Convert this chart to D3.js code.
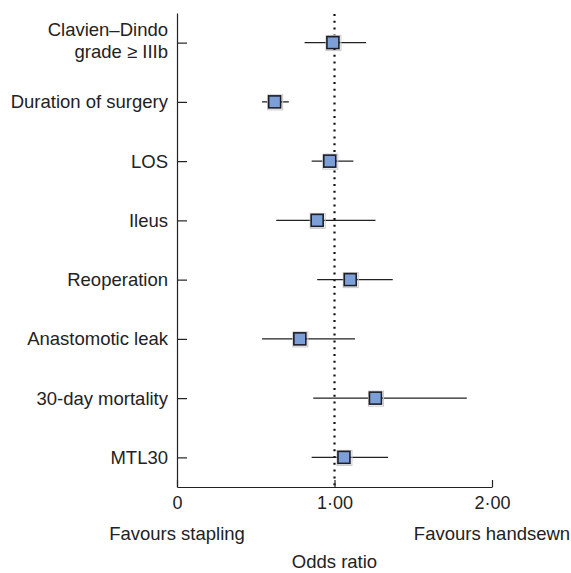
<!DOCTYPE html>
<html>
<head>
<meta charset="utf-8">
<script src="https://cdn.jsdelivr.net/npm/d3@7"></script>
<style>
  html, body { margin: 0; padding: 0; background: #fff; }
  text { font-family: "Liberation Sans", Arial, Helvetica, sans-serif; fill: #222; }
</style>
</head>
<body>
<svg id="chart" width="571" height="573"></svg>
<script>
const categories = ["Clavien–Dindo\ngrade ≥ IIIb", "Duration of surgery", "LOS", "Ileus", "Reoperation", "Anastomotic leak", "30-day mortality", "MTL30"];
const oddsRatio = [0.99, 0.62, 0.97, 0.89, 1.10, 0.78, 1.26, 1.06];
const ciLower   = [0.81, 0.54, 0.855, 0.63, 0.89, 0.54, 0.865, 0.855];
const ciUpper   = [1.20, 0.71, 1.12, 1.26, 1.37, 1.13, 1.84, 1.34];
const xTicks = [0, 1, 2];
const xTickLabels = ["0", "1·00", "2·00"];
const sideLabels = ["Favours stapling", "Favours handsewn"];
const xTitle = "Odds ratio";

const FS = 18.5;
const svg = d3.select("#chart");
const x = d3.scaleLinear().domain([0, 2]).range([177, 492]);
const y = d3.scalePoint().domain(categories).range([13, 487]).padding(0.5);
const bottom = 487;

// reference line at OR = 1
svg.append("line")
  .attr("x1", x(1)).attr("x2", x(1))
  .attr("y1", 14).attr("y2", bottom)
  .attr("stroke", "#111").attr("stroke-width", 2.2)
  .attr("stroke-dasharray", "2,4.8");

// y axis
const yAxis = d3.axisLeft(y).tickSizeInner(-10).tickSizeOuter(0).tickPadding(9);
const gy = svg.append("g").attr("transform", `translate(${x(0)},0)`).call(yAxis);
gy.attr("font-family", null).attr("font-size", null);
gy.select(".domain").attr("stroke", "#222").attr("stroke-width", 1.2);
gy.selectAll(".tick line").attr("stroke", "#222").attr("stroke-width", 1.2);
gy.selectAll(".tick text")
  .attr("font-size", FS)
  .style("fill", "#222")
  .each(function(d) {
    const lines = d.split("\n");
    const t = d3.select(this);
    t.text(null).attr("dy", null);
    if (lines.length === 1) {
      t.append("tspan").attr("x", -9).attr("y", 6).text(lines[0]);
    } else {
      t.append("tspan").attr("x", -9).attr("y", -7.6).text(lines[0]);
      t.append("tspan").attr("x", -9).attr("y", 14.4).text(lines[1]);
    }
  });

// x axis
const xAxis = d3.axisBottom(x).tickValues(xTicks)
  .tickFormat((d, i) => xTickLabels[i])
  .tickSizeInner(-7).tickSizeOuter(0).tickPadding(9);
const gx = svg.append("g").attr("transform", `translate(0,${bottom})`).call(xAxis);
gx.attr("font-family", null).attr("font-size", null);
gx.select(".domain").attr("stroke", "#222").attr("stroke-width", 1.2);
gx.selectAll(".tick line").attr("stroke", "#222").attr("stroke-width", 1.2);
gx.selectAll(".tick text").attr("font-size", 18).style("fill", "#222");

// side labels
svg.selectAll("text.side").data(sideLabels).join("text")
  .attr("class", "side")
  .attr("x", (d, i) => x(xTicks[i * 2]))
  .attr("y", 540)
  .attr("text-anchor", "middle")
  .attr("font-size", FS)
  .text(d => d);

svg.append("text")
  .attr("x", x(1)).attr("y", 568)
  .attr("text-anchor", "middle")
  .attr("font-size", FS)
  .text(xTitle);

// CI lines
const rows = categories.map((c, i) => ({ c, or: oddsRatio[i], lo: ciLower[i], hi: ciUpper[i] }));
svg.selectAll("line.ci").data(rows).join("line")
  .attr("class", "ci")
  .attr("x1", d => x(d.lo)).attr("x2", d => x(d.hi))
  .attr("y1", d => y(d.c)).attr("y2", d => y(d.c))
  .attr("stroke", "#222").attr("stroke-width", 1.3);

// shadows and squares
const s = 12;
svg.selectAll("rect.shadow").data(rows).join("rect")
  .attr("class", "shadow")
  .attr("x", d => x(d.or) - s / 2 - 1).attr("y", d => y(d.c) - s / 2 - 1)
  .attr("width", s + 3).attr("height", s + 3)
  .attr("fill", "none").attr("stroke", "#c8c8c8").attr("stroke-width", 1);
svg.selectAll("rect.pt").data(rows).join("rect")
  .attr("class", "pt")
  .attr("x", d => x(d.or) - s / 2).attr("y", d => y(d.c) - s / 2)
  .attr("width", s).attr("height", s)
  .attr("fill", "#7b9fd6").attr("stroke", "#1e1e28").attr("stroke-width", 1.6);
</script>
</body>
</html>
